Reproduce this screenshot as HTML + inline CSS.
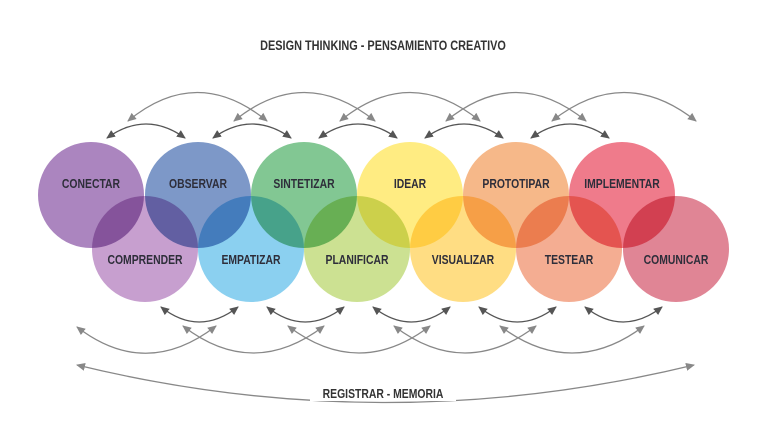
<!DOCTYPE html>
<html><head><meta charset="utf-8"><style>
html,body{margin:0;padding:0;background:#fff;}
svg{display:block;}
text{font-family:"Liberation Sans",sans-serif;}
</style></head><body>
<svg width="764" height="427" viewBox="0 0 764 427" xmlns="http://www.w3.org/2000/svg">
<defs>
<marker id="hd" markerWidth="10" markerHeight="10" refX="8" refY="4" orient="auto-start-reverse" markerUnits="userSpaceOnUse"><path d="M0,0 L9,4 L0,8 Z" fill="#555"/></marker>
<marker id="hl" markerWidth="10" markerHeight="10" refX="8" refY="4" orient="auto-start-reverse" markerUnits="userSpaceOnUse"><path d="M0,0 L9,4 L0,8 Z" fill="#888"/></marker>
</defs>
<text x="383" y="50" text-anchor="middle" font-size="14" font-weight="bold" fill="#333" transform="translate(383 0) scale(0.78 1) translate(-383 0)">DESIGN THINKING - PENSAMIENTO CREATIVO</text>
<g style="isolation:isolate">
<circle cx="91" cy="195" r="53" fill="#ab85bf" style="mix-blend-mode:multiply"/>
<circle cx="198" cy="195" r="53" fill="#7d98c8" style="mix-blend-mode:multiply"/>
<circle cx="304" cy="195" r="53" fill="#82c793" style="mix-blend-mode:multiply"/>
<circle cx="410" cy="195" r="53" fill="#ffec82" style="mix-blend-mode:multiply"/>
<circle cx="516" cy="195" r="53" fill="#f6b889" style="mix-blend-mode:multiply"/>
<circle cx="622" cy="195" r="53" fill="#ef7b8b" style="mix-blend-mode:multiply"/>
<circle cx="145" cy="249" r="53" fill="#c195ca" fill-opacity="0.9" style="mix-blend-mode:multiply"/>
<circle cx="251" cy="249" r="53" fill="#7ecbee" fill-opacity="0.9" style="mix-blend-mode:multiply"/>
<circle cx="357" cy="249" r="53" fill="#c7de86" fill-opacity="0.9" style="mix-blend-mode:multiply"/>
<circle cx="463" cy="249" r="53" fill="#ffd975" fill-opacity="0.9" style="mix-blend-mode:multiply"/>
<circle cx="569" cy="249" r="53" fill="#f3a486" fill-opacity="0.9" style="mix-blend-mode:multiply"/>
<circle cx="676" cy="249" r="53" fill="#dd7889" fill-opacity="0.9" style="mix-blend-mode:multiply"/>
</g>
<g font-size="13" font-weight="bold" fill="#2e2e3a" text-anchor="middle">
<g transform="scale(0.8 1)">
<text x="113.75" y="188">CONECTAR</text>
<text x="247.5" y="188">OBSERVAR</text>
<text x="380" y="188">SINTETIZAR</text>
<text x="512.5" y="188">IDEAR</text>
<text x="645" y="188">PROTOTIPAR</text>
<text x="777.5" y="188">IMPLEMENTAR</text>
<text x="181.25" y="264">COMPRENDER</text>
<text x="313.75" y="264">EMPATIZAR</text>
<text x="446.25" y="264">PLANIFICAR</text>
<text x="578.75" y="264">VISUALIZAR</text>
<text x="711.25" y="264">TESTEAR</text>
<text x="845" y="264">COMUNICAR</text>
</g></g>
<g fill="none" stroke="#555" stroke-width="1.3">
<path d="M107,138 Q146,110 185,138" marker-start="url(#hd)" marker-end="url(#hd)"/>
<path d="M213,138 Q252,110 291,138" marker-start="url(#hd)" marker-end="url(#hd)"/>
<path d="M319,138 Q358,110 397,138" marker-start="url(#hd)" marker-end="url(#hd)"/>
<path d="M425,138 Q464,110 503,138" marker-start="url(#hd)" marker-end="url(#hd)"/>
<path d="M531,138 Q570,110 609,138" marker-start="url(#hd)" marker-end="url(#hd)"/>
<path d="M161,307 Q199,337 238,307" marker-start="url(#hd)" marker-end="url(#hd)"/>
<path d="M267,307 Q305,337 344,307" marker-start="url(#hd)" marker-end="url(#hd)"/>
<path d="M373,307 Q411,337 450,307" marker-start="url(#hd)" marker-end="url(#hd)"/>
<path d="M479,307 Q517,337 556,307" marker-start="url(#hd)" marker-end="url(#hd)"/>
<path d="M585,307 Q623,337 662,307" marker-start="url(#hd)" marker-end="url(#hd)"/>
</g>
<g fill="none" stroke="#888" stroke-width="1.3">
<path d="M128,121 Q197,64 267,121" marker-start="url(#hl)" marker-end="url(#hl)"/>
<path d="M234,121 Q304,64 375,121" marker-start="url(#hl)" marker-end="url(#hl)"/>
<path d="M340,121 Q410,64 480,121" marker-start="url(#hl)" marker-end="url(#hl)"/>
<path d="M446,121 Q516,64 586,121" marker-start="url(#hl)" marker-end="url(#hl)"/>
<path d="M552,121 Q624,64 696,121" marker-start="url(#hl)" marker-end="url(#hl)"/>
<path d="M77,327 Q146,380 216,326" marker-start="url(#hl)" marker-end="url(#hl)"/>
<path d="M183,326 Q253,380 324,326" marker-start="url(#hl)" marker-end="url(#hl)"/>
<path d="M288,326 Q359,380 430,326" marker-start="url(#hl)" marker-end="url(#hl)"/>
<path d="M394,326 Q465,380 536,326" marker-start="url(#hl)" marker-end="url(#hl)"/>
<path d="M500,326 Q572,380 644,326" marker-start="url(#hl)" marker-end="url(#hl)"/>
<path d="M77,365 Q385,440 694,365" marker-start="url(#hl)" marker-end="url(#hl)"/>
</g>
<rect x="310" y="383" width="146" height="18" fill="#fff"/>
<text x="383" y="398" text-anchor="middle" font-size="13" font-weight="bold" fill="#333" transform="translate(383 0) scale(0.8 1) translate(-383 0)">REGISTRAR - MEMORIA</text>
</svg>
</body></html>
